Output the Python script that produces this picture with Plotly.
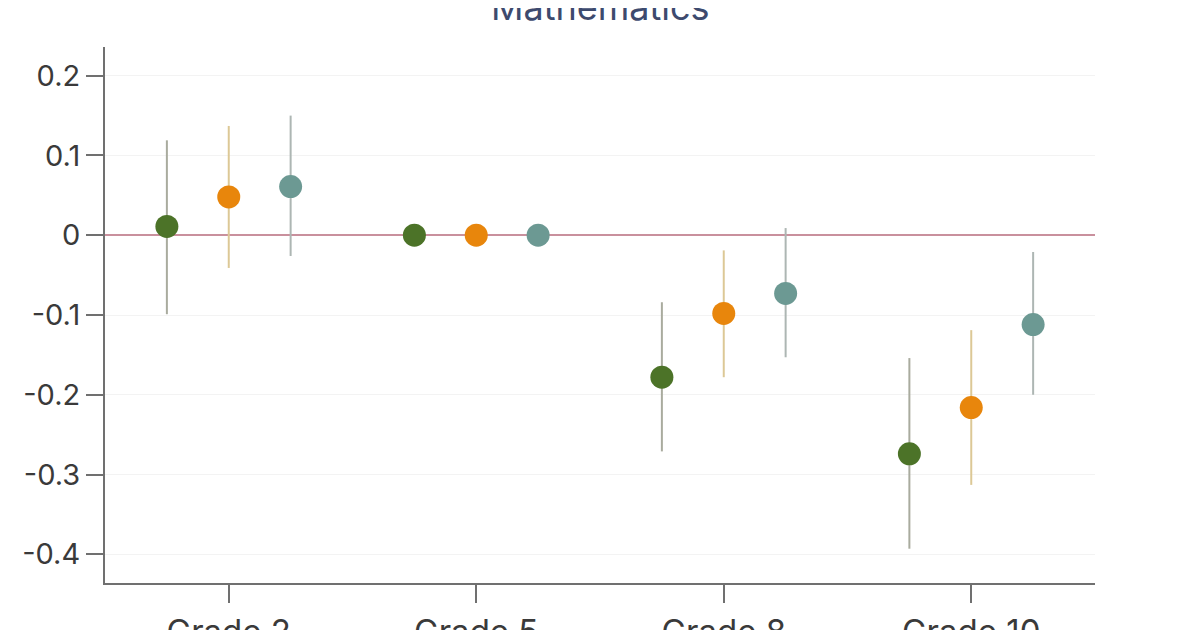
import plotly.graph_objects as go

grades = ["Grade 2", "Grade 5", "Grade 8", "Grade 10"]

green_est = [0.011, 0.0, -0.178, -0.274]
green_lo = [-0.099, 0.0, -0.271, -0.393]
green_hi = [0.119, 0.0, -0.084, -0.154]

orange_est = [0.048, 0.0, -0.098, -0.216]
orange_lo = [-0.041, 0.0, -0.178, -0.313]
orange_hi = [0.137, 0.0, -0.019, -0.119]

teal_est = [0.061, 0.0, -0.073, -0.112]
teal_lo = [-0.026, 0.0, -0.153, -0.200]
teal_hi = [0.150, 0.0, 0.009, -0.021]

y_ticks = [0.2, 0.1, 0, -0.1, -0.2, -0.3, -0.4]
y_labels = ["0.2", "0.1", "0", "-0.1", "-0.2", "-0.3", "-0.4"]

series = [
    ("Series A", green_est, green_lo, green_hi, "#4c7328", "#a9ab9e"),
    ("Series B", orange_est, orange_lo, orange_hi, "#e8860c", "#dcc896"),
    ("Series C", teal_est, teal_lo, teal_hi, "#6c9993", "#adb6b3"),
]

fig = go.Figure()
for name, est, lo, hi, col, ecol in series:
    fig.add_trace(go.Scatter(
        x=grades, y=est, name=name, mode="markers",
        offsetgroup=name,
        marker=dict(size=23, color=col, line=dict(width=0)),
        error_y=dict(type="data", symmetric=False,
                     array=[h - e for h, e in zip(hi, est)],
                     arrayminus=[e - l for e, l in zip(est, lo)],
                     color=ecol, thickness=2, width=0),
        showlegend=False,
    ))

fig.update_layout(
    width=1200, height=630,
    margin=dict(l=97, r=113, t=39, b=55, autoexpand=False),
    paper_bgcolor="white", plot_bgcolor="white",
    scattermode="group", scattergap=0.25,
    font=dict(family="Inter, Roboto, sans-serif", color="#3a3a3a"),
)
fig.update_xaxes(
    type="category", range=[-0.5, 3.5], automargin=False,
    showline=True, linecolor="#707070", linewidth=2,
    ticks="outside", ticklen=18, tickwidth=1.5, tickcolor="#707070",
    tickfont=dict(size=33, color="#3a3a3a"),
    showgrid=False, zeroline=False,
)
fig.update_yaxes(
    range=[-0.436, 0.236], automargin=False,
    tickvals=y_ticks, ticktext=y_labels,
    showline=True, linecolor="#707070", linewidth=2,
    ticks="outside", ticklen=17, tickwidth=1.5, tickcolor="#707070",
    tickfont=dict(size=29, color="#3a3a3a"),
    showgrid=True, gridcolor="#f3f3f3", gridwidth=1,
    zeroline=True, zerolinecolor="#c9909d", zerolinewidth=1.5,
)
fig.add_annotation(
    text="Mathematics", xref="paper", yref="paper", x=0.5, y=1,
    xanchor="center", yanchor="middle", yshift=40, showarrow=False,
    font=dict(size=36, color="#3d4a6e", family="Inter, Roboto, sans-serif"),
)

fig.write_html("out.html")
